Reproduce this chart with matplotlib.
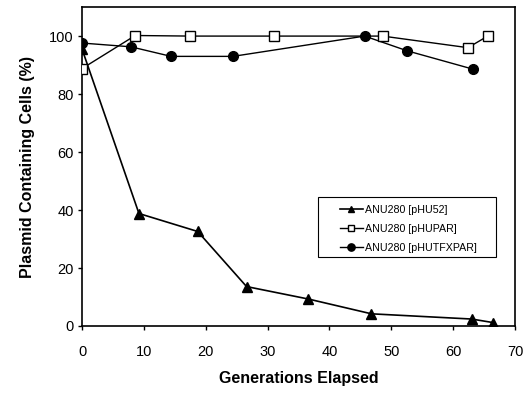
import matplotlib
matplotlib.use("Agg")
import matplotlib.pyplot as plt
from matplotlib.patches import Rectangle

plt.rcParams["font.family"] = ["Liberation Sans", "DejaVu Sans"]

# pHU52 (triangles)
gen_hu52 = [0, 9.2, 18.7, 26.6, 36.6, 46.8, 63.0, 66.4]
pct_hu52 = [95.5, 38.8, 32.6, 13.6, 9.3, 4.2, 2.4, 1.2]

# pHUPAR (open squares)
gen_hupar = [0, 8.6, 17.5, 31.0, 48.6, 62.4, 65.6]
pct_hupar = [88.8, 100.2, 100.0, 100.0, 100.0, 96.0, 100.0]

# pHUTFXPAR (filled circles)
gen_hutfx = [0, 7.9, 14.4, 24.4, 45.7, 52.6, 63.2]
pct_hutfx = [97.6, 96.3, 93.0, 93.0, 100.0, 94.9, 88.6]

labels = ["ANU280 [pHU52]", "ANU280 [pHUPAR]", "ANU280 [pHUTFXPAR]"]

fig = plt.figure(figsize=(5.26, 3.94), dpi=100)
ax = fig.add_axes([0.156, 0.1726, 0.823, 0.8094])

ax.plot(gen_hu52, pct_hu52, color="black", lw=1.2, marker="^", ms=6.5,
        mfc="black", mec="black", label=labels[0], zorder=3)
ax.plot(gen_hupar, pct_hupar, color="black", lw=1.0, marker="s", ms=6.5,
        mfc="white", mec="black", mew=1.0, label=labels[1], zorder=4)
ax.plot(gen_hutfx, pct_hutfx, color="black", lw=1.0, marker="o", ms=7,
        mfc="black", mec="black", label=labels[2], zorder=3)

ax.set_xlim(0, 70)
ax.set_ylim(0, 110)
ax.set_xticks(range(0, 71, 10))
ax.set_yticks(range(0, 101, 20))
ax.tick_params(direction="out", length=3, width=1, labelsize=10.5)
ax.tick_params(axis="x", pad=11)
ax.tick_params(axis="y", pad=3)
for s in ax.spines.values():
    s.set_linewidth(1.2)

ax.set_xlabel("Generations Elapsed", fontsize=11.5, fontweight="bold", labelpad=8)
ax.set_ylabel("Plasmid Containing Cells (%)", fontsize=11.5, fontweight="bold", labelpad=10)

# legend box, wider than the entries as in the original
ax.add_patch(Rectangle((0.544, 0.216), 0.413, 0.188, transform=ax.transAxes,
                       facecolor="white", edgecolor="black", lw=0.8, zorder=5))
leg = ax.legend(loc="center", bbox_to_anchor=(0.754, 0.304), fontsize=7.7,
                frameon=False, handlelength=2.1, handletextpad=0.2,
                borderpad=0, labelspacing=0.85, markerscale=0.75)
leg.set_zorder(6)

fig.savefig("out.png", dpi=100)
